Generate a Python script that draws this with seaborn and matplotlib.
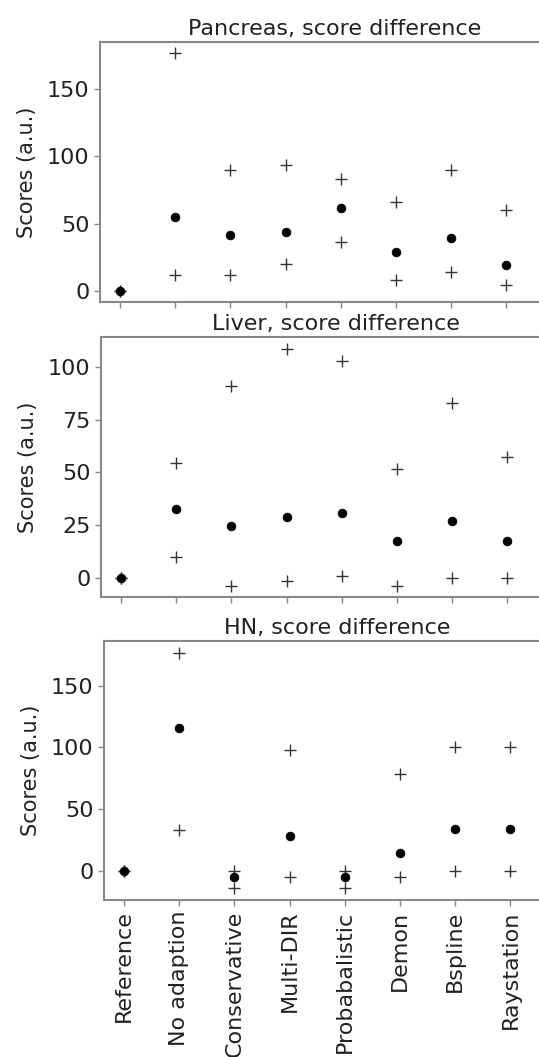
import numpy as np
import pandas as pd
import seaborn as sns
import matplotlib.pyplot as plt

methods = ['Reference', 'No adaption', 'Conservative', 'Multi-DIR',
           'Probabalistic', 'Demon', 'Bspline', 'Raystation']

# pancreas
pan_mid = [0, 55, 41.4, 44, 61.9, 28.7, 39.6, 19.6]
pan_hi = [0, 176.6, 89.6, 93.3, 83.4, 66, 89.6, 60]
pan_lo = [0, 11.6, 11.6, 20.3, 36.2, 8.2, 14.1, 4.2]

# liver
liv_mid = [0, 32.7, 24.6, 28.9, 30.6, 17.5, 26.9, 17.5]
liv_hi = [0, 54.3, 91, 108.5, 102.7, 51.7, 83, 57.2]
liv_lo = [0, 10, -3.9, -1.4, 0.8, -3.9, 0, 0]

# head and neck
hn_mid = [0, 115.5, -4.6, 28.3, -4.6, 14.6, 33.7, 33.7]
hn_hi = [0, 176.2, 0, 97.9, 0, 78.8, 100.6, 100.6]
hn_lo = [0, 33.2, -14, -4.6, -14, -4.6, 0, 0]

panels = [('Pancreas, score difference', pan_mid, pan_hi, pan_lo),
          ('Liver, score difference', liv_mid, liv_hi, liv_lo),
          ('HN, score difference', hn_mid, hn_hi, hn_lo)]

sns.set_style('white')
plt.rcParams['font.family'] = ['DejaVu Sans']

W, H = 539, 1057
fig = plt.figure(figsize=(W / 100, H / 100), dpi=100)

# axes boxes in pixels: left, top, bottom  (right edge runs off the picture)
boxes = [(100, 42, 302), (101, 337, 597), (104, 641, 900)]
ylims = [(-8.2, 185), (-9.1, 114.1), (-23.5, 186.2)]
yticks = [[0, 50, 100, 150], [0, 25, 50, 75, 100], [0, 50, 100, 150]]
right = 570

for i, (title, mid, hi, lo) in enumerate(panels):
    l, t, b = boxes[i]
    ax = fig.add_axes([l / W, 1 - b / H, (right - l) / W, (b - t) / H])
    df_bounds = pd.DataFrame({'method': methods * 2, 'score': hi + lo})
    df_mid = pd.DataFrame({'method': methods, 'score': mid})
    sns.scatterplot(data=df_bounds, x='method', y='score', marker='+', s=75,
                    color='#333333', linewidth=1.0, ax=ax, zorder=3)
    sns.scatterplot(data=df_mid, x='method', y='score', marker='o', s=40,
                    color='black', edgecolor='black', ax=ax, zorder=4)
    x0 = -20 / 55.2
    ax.set_xlim(x0, x0 + (right - l) / 55.2)
    ax.set_ylim(*ylims[i])
    ax.set_yticks(yticks[i])
    ax.set_title(title, fontsize=16, color='#222222', pad=5)
    ax.set_ylabel('Scores (a.u.)', fontsize=15, color='#222222', labelpad=7)
    ax.set_xlabel('')
    for sp in ax.spines.values():
        sp.set_color('#888888')
        sp.set_linewidth(1.5)
    ax.spines['right'].set_visible(False)
    ax.tick_params(axis='both', direction='out', length=4, width=1,
                   bottom=True, left=True,
                   color='#888888', labelsize=16, labelcolor='#222222')
    if i < 2:
        ax.tick_params(axis='x', labelbottom=False)
    else:
        plt.setp(ax.get_xticklabels(), rotation=90)

fig.savefig('out.png', dpi=100, facecolor='white')
